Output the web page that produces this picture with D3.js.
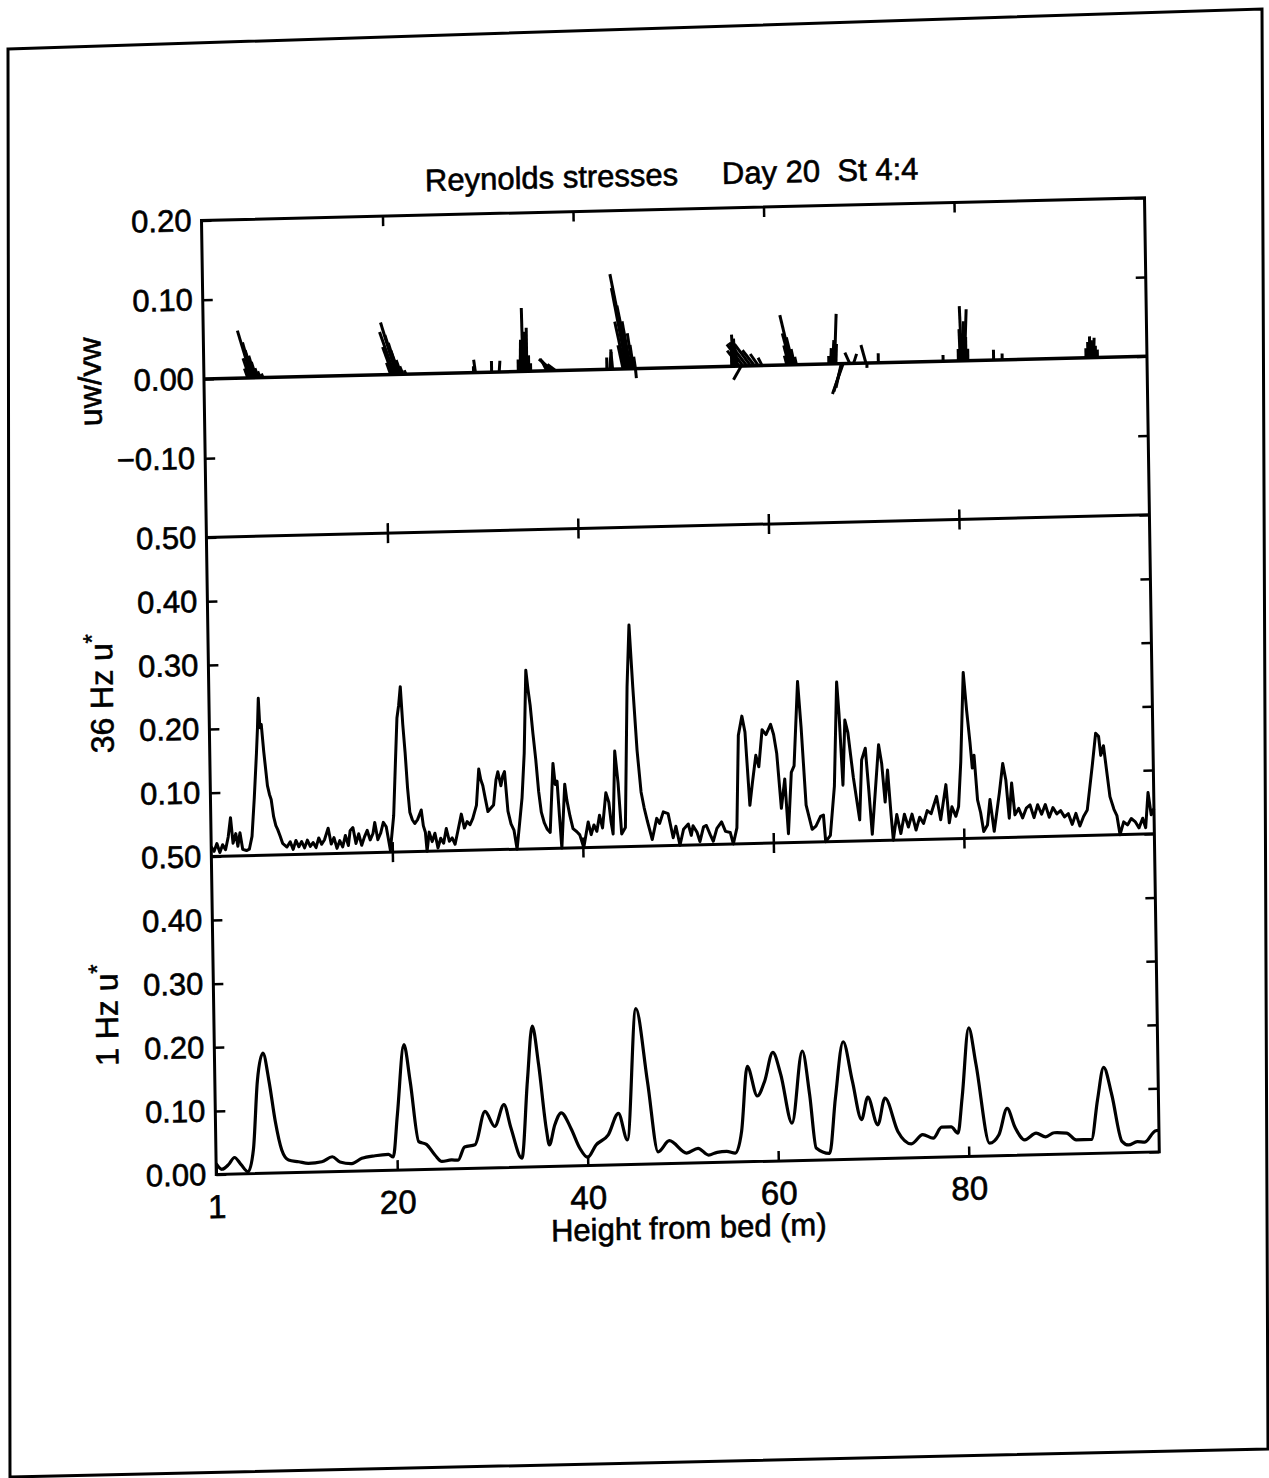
<!DOCTYPE html>
<html>
<head>
<meta charset="utf-8">
<script src="https://cdn.jsdelivr.net/npm/d3@7"></script>
<style>
  body { margin: 0; background: #fff; }
  svg { display: block; background: #fff; }
  text { font-family: "Liberation Sans", Arial, Helvetica, sans-serif; fill: #000; stroke: #000; stroke-width: 0.6px; }
  .tick line { stroke: #000; stroke-width: 2.5; }
  .tick text { font-size: 31px; }
  .x-axis .tick text { font-size: 33px; }
</style>
</head>
<body>
<svg id="chart" width="1269" height="1478"></svg>
<script>
// tick values / labels
const xTicks = [20, 40, 60, 80];
const xLabels = [1, 20, 40, 60, 80];
const stressTicks = [0.2, 0.1, 0, -0.1];
const ustar36Ticks = [0.5, 0.4, 0.3, 0.2, 0.1];
const ustar1Ticks = [0.5, 0.4, 0.3, 0.2, 0.1, 0.0];

// Reynolds stress sticks: [height, horizontal comp, vertical comp]
const stressSticks = [
  [5.6, -0.004, 0.012], [5.8, -0.008, 0.025], [6.0, -0.017, 0.06], [6.1, -0.012, 0.045],
  [6.2, -0.01, 0.035], [6.4, -0.008, 0.028], [6.5, -0.006, 0.02], [6.7, -0.004, 0.012],
  [6.9, -0.003, 0.008], [7.2, -0.002, 0.005],
  [20.6, -0.005, 0.015], [20.8, -0.012, 0.035], [21.0, -0.018, 0.054], [21.2, -0.019, 0.066],
  [21.3, -0.015, 0.05], [21.4, -0.012, 0.04], [21.5, -0.01, 0.03], [21.7, -0.006, 0.018],
  [21.9, -0.004, 0.01], [22.2, -0.002, 0.005],
  [29.3, 0, 0.008], [29.5, -0.002, 0.016], [31.2, 0, 0.014], [32.0, 0.001, 0.014],
  [34.0, 0, 0.015], [34.2, 0.001, 0.04], [34.4, 0, 0.03], [34.5, -0.001, 0.08],
  [34.7, 0, 0.05], [34.9, 0, 0.055], [35.1, 0, 0.02], [35.3, 0, 0.01],
  [37.0, -0.006, 0.012], [37.3, -0.012, 0.015], [37.6, -0.017, 0.015], [37.9, -0.01, 0.008],
  [43.3, 0, 0.015], [43.6, 0.002, 0.022], [43.9, -0.002, 0.025],
  [45.0, -0.006, 0.03], [45.2, -0.012, 0.06], [45.4, -0.018, 0.1025], [45.6, -0.022, 0.12],
  [45.7, -0.015, 0.08], [45.8, -0.01, 0.06], [46.0, -0.006, 0.045], [46.1, -0.004, 0.03],
  [46.3, -0.002, 0.015], [46.3, 0.001, -0.012],
  [56.4, 0, 0.03], [56.6, -0.002, 0.04], [56.8, -0.002, 0.035], [57.0, -0.003, 0.025],
  [57.4, -0.01, -0.017],
  [57.2, -0.015, 0.02], [57.6, -0.02, 0.028], [58.0, -0.022, 0.03], [58.4, -0.02, 0.028],
  [58.8, -0.015, 0.02], [59.2, -0.01, 0.015], [59.6, -0.005, 0.01],
  [62.2, -0.003, 0.012], [62.4, -0.006, 0.025], [62.6, -0.01, 0.04], [62.7, -0.014, 0.063],
  [62.85, -0.008, 0.035], [63.0, -0.004, 0.02], [63.2, -0.002, 0.01],
  [66.6, 0, 0.01], [66.8, 0.001, 0.02], [67.0, 0.002, 0.03], [67.2, 0.003, 0.063],
  [67.35, 0.001, 0.025], [67.9, -0.007, -0.03], [68.0, -0.011, -0.035], [68.1, -0.014, -0.038],
  [68.8, -0.006, 0.014], [69.2, 0.004, 0.012], [70.5, -0.006, 0.023], [70.6, 0, -0.006],
  [71.8, 0, 0.012], [78.6, 0, 0.008],
  [80.2, 0, 0.015], [80.4, -0.001, 0.04], [80.55, -0.002, 0.069], [80.7, 0.001, 0.05],
  [80.85, 0.003, 0.065], [81.0, 0, 0.03], [81.2, 0, 0.015],
  [83.9, 0, 0.013], [84.8, 0, 0.008],
  [93.6, 0, 0.012], [93.8, 0, 0.02], [94.0, 0, 0.027], [94.2, 0, 0.022],
  [94.4, 0.001, 0.025], [94.6, 0, 0.015], [94.8, 0, 0.01]
];

// 36 Hz u*: [height, value]
const ustar36 = [
  [1.0, 0.015], [1.3, 0.008], [1.6, 0.02], [1.9, 0.006], [2.2, 0.018], [2.5, 0.01], [2.8, 0.03],
  [3.07, 0.06], [3.3, 0.02], [3.6, 0.035], [3.8, 0.015], [4.04, 0.036], [4.3, 0.01], [4.7, 0.008],
  [5.0, 0.01], [5.3, 0.03], [5.6, 0.09], [5.9, 0.16], [6.05, 0.2], [6.18, 0.246], [6.3, 0.2],
  [6.45, 0.205], [6.67, 0.162], [7.0, 0.109], [7.2, 0.095], [7.37, 0.087], [7.6, 0.06],
  [7.82, 0.046], [8.0, 0.04], [8.24, 0.03], [8.5, 0.018], [8.95, 0.012],
  [9.3, 0.02], [9.6, 0.008], [9.9, 0.022], [10.2, 0.012], [10.5, 0.02], [10.8, 0.01],
  [11.1, 0.022], [11.4, 0.012], [11.7, 0.018], [12.0, 0.01], [12.3, 0.025], [12.6, 0.015],
  [12.9, 0.022], [13.3, 0.04], [13.6, 0.015], [13.9, 0.025], [14.2, 0.008], [14.5, 0.02],
  [14.8, 0.01], [15.1, 0.028], [15.4, 0.012], [15.6, 0.035], [15.9, 0.04], [16.2, 0.015],
  [16.5, 0.03], [16.8, 0.012], [17.1, 0.025], [17.4, 0.035], [17.7, 0.02], [18.0, 0.03],
  [18.2, 0.047], [18.5, 0.02], [18.8, 0.03], [19.1, 0.047], [19.4, 0.04], [19.8, 0.003],
  [20.2, 0.057], [20.5, 0.15], [20.7, 0.21], [20.9, 0.23], [21.1, 0.259], [21.3, 0.2],
  [21.5, 0.156], [21.7, 0.1], [21.9, 0.062], [22.15, 0.05], [22.4, 0.044], [22.7, 0.05],
  [23.1, 0.065], [23.3, 0.04], [23.5, 0.03], [23.65, 0.0], [23.9, 0.03], [24.2, 0.015],
  [24.5, 0.028], [24.8, 0.005], [25.1, 0.02], [25.4, 0.012], [25.7, 0.035], [26.0, 0.015],
  [26.3, 0.02], [26.6, 0.01], [26.9, 0.03], [27.3, 0.057], [27.6, 0.035], [27.9, 0.045],
  [28.2, 0.04], [28.5, 0.05], [28.9, 0.07], [29.2, 0.127], [29.4, 0.11], [29.6, 0.101],
  [29.85, 0.08], [30.1, 0.06], [30.4, 0.065], [30.7, 0.07], [31.0, 0.11], [31.2, 0.122],
  [31.5, 0.1], [31.7, 0.115], [31.9, 0.122], [32.2, 0.06], [32.5, 0.04], [32.8, 0.03],
  [33.1, 0.0], [33.4, 0.04], [33.7, 0.08], [34.0, 0.15], [34.3, 0.28], [34.5, 0.25],
  [34.7, 0.225], [34.95, 0.18], [35.2, 0.14], [35.45, 0.09], [35.7, 0.057], [36.0, 0.04],
  [36.3, 0.03], [36.6, 0.025], [37.0, 0.133], [37.2, 0.1], [37.4, 0.105], [37.6, 0.05],
  [37.8, 0.0], [38.2, 0.1], [38.4, 0.075], [38.7, 0.05], [39.0, 0.03], [39.4, 0.025],
  [39.7, 0.02], [40.1, 0.0], [40.6, 0.04], [40.9, 0.02], [41.2, 0.035], [41.5, 0.025],
  [41.8, 0.05], [42.1, 0.03], [42.5, 0.085], [42.8, 0.07], [43.0, 0.04], [43.2, 0.02],
  [43.5, 0.15], [43.8, 0.1], [44.1, 0.02], [44.5, 0.03], [44.9, 0.25], [45.2, 0.347],
  [45.5, 0.25], [45.85, 0.15], [46.2, 0.085], [46.5, 0.06], [46.8, 0.04], [47.3, 0.01],
  [47.8, 0.043], [48.1, 0.035], [48.5, 0.053], [49.0, 0.05], [49.5, 0.012], [49.8, 0.03],
  [50.2, 0.0], [50.6, 0.025], [51.1, 0.033], [51.4, 0.015], [51.6, 0.03], [52.0, 0.02],
  [52.3, 0.005], [52.7, 0.028], [53.0, 0.03], [53.4, 0.015], [53.7, 0.005], [54.1, 0.025],
  [54.6, 0.035], [55.0, 0.02], [55.5, 0.018], [55.8, 0.0], [56.2, 0.025], [56.5, 0.17],
  [56.9, 0.2], [57.2, 0.175], [57.6, 0.06], [57.9, 0.095], [58.3, 0.138], [58.6, 0.12],
  [59.0, 0.178], [59.4, 0.17], [59.9, 0.186], [60.2, 0.17], [60.5, 0.14], [60.9, 0.054],
  [61.3, 0.1], [61.6, 0.014], [62.0, 0.11], [62.3, 0.12], [62.8, 0.252], [63.1, 0.18],
  [63.5, 0.058], [64.1, 0.02], [64.5, 0.025], [65.0, 0.04], [65.3, 0.042], [65.5, 0.0],
  [66.0, 0.01], [66.5, 0.087], [66.9, 0.25], [67.1, 0.2], [67.4, 0.088], [67.7, 0.19],
  [68.0, 0.17], [68.5, 0.1], [69.1, 0.033], [69.4, 0.127], [69.8, 0.145], [70.1, 0.08],
  [70.4, 0.01], [70.8, 0.08], [71.2, 0.15], [71.5, 0.12], [71.8, 0.06], [72.1, 0.11],
  [72.4, 0.04], [72.6, 0.0], [73.0, 0.04], [73.4, 0.01], [73.8, 0.04], [74.2, 0.02],
  [74.6, 0.04], [75.0, 0.015], [75.4, 0.035], [75.8, 0.025], [76.2, 0.045], [76.6, 0.04],
  [77.2, 0.067], [77.6, 0.03], [78.2, 0.085], [78.5, 0.025], [78.8, 0.05], [79.2, 0.035],
  [79.5, 0.05], [79.8, 0.12], [80.2, 0.26], [80.5, 0.2], [80.8, 0.15], [81.0, 0.11],
  [81.2, 0.13], [81.5, 0.06], [81.8, 0.04], [82.1, 0.01], [82.5, 0.02], [82.8, 0.06],
  [83.2, 0.01], [83.8, 0.07], [84.2, 0.116], [84.5, 0.09], [84.8, 0.03], [85.1, 0.085],
  [85.4, 0.035], [85.8, 0.045], [86.2, 0.03], [86.6, 0.045], [87.0, 0.05], [87.4, 0.03],
  [87.8, 0.05], [88.2, 0.035], [88.6, 0.05], [89.0, 0.03], [89.4, 0.045], [89.8, 0.035],
  [90.2, 0.04], [90.6, 0.03], [91.0, 0.035], [91.4, 0.018], [91.8, 0.035], [92.2, 0.015],
  [92.6, 0.03], [93.0, 0.04], [93.6, 0.11], [94.0, 0.16], [94.3, 0.155], [94.5, 0.125],
  [94.8, 0.14], [95.1, 0.1], [95.4, 0.06], [95.8, 0.04], [96.1, 0.03], [96.4, 0.0],
  [96.8, 0.02], [97.2, 0.015], [97.6, 0.025], [98.0, 0.02], [98.4, 0.01], [98.8, 0.025],
  [99.1, 0.01], [99.4, 0.065], [99.7, 0.03], [100, 0.04]
];

// 1 Hz u*: [height, value]
const ustar1 = [
  [1.0, 0.017], [1.6, 0.008], [2.3, 0.015], [2.94, 0.026], [3.6, 0.015], [4.34, 0.003],
  [4.94, 0.038], [5.46, 0.145], [6.09, 0.189], [6.69, 0.144], [7.28, 0.081], [7.91, 0.036],
  [8.61, 0.02], [9.66, 0.017], [10.7, 0.014], [12.1, 0.016], [13.2, 0.0235], [14.0, 0.015],
  [15.25, 0.012], [16.3, 0.02], [17.7, 0.0235], [19.1, 0.025], [19.6, 0.021], [20.1, 0.087],
  [20.9, 0.197], [21.5, 0.139], [22.3, 0.044], [23.1, 0.0395], [24.0, 0.022], [24.7, 0.012],
  [25.7, 0.014], [26.4, 0.0135], [27.1, 0.034], [28.2, 0.037], [29.3, 0.089], [30.3, 0.065],
  [31.3, 0.099], [32.0, 0.062], [33.1, 0.014], [33.8, 0.135], [34.4, 0.2215], [35.0, 0.161],
  [35.7, 0.06], [36.0, 0.034], [36.6, 0.065], [37.3, 0.084], [38.3, 0.059], [39.2, 0.0275],
  [40.0, 0.013], [40.9, 0.032], [42.2, 0.0475], [43.3, 0.081], [44.2, 0.039], [45.3, 0.245],
  [46.4, 0.13], [47.4, 0.019], [48.6, 0.036], [50.4, 0.016], [51.6, 0.023], [52.7, 0.012],
  [53.6, 0.016], [54.6, 0.017], [55.5, 0.014], [56.2, 0.048], [56.9, 0.15], [57.9, 0.103],
  [58.7, 0.126], [59.6, 0.171], [60.4, 0.136], [61.5, 0.059], [62.7, 0.172], [63.4, 0.103],
  [64.0, 0.019], [65.4, 0.01], [66.1, 0.097], [67.0, 0.185], [67.9, 0.123], [68.8, 0.062],
  [69.5, 0.097], [70.5, 0.053], [71.3, 0.095], [72.6, 0.042], [74.0, 0.022], [75.2, 0.036],
  [76.3, 0.03], [77.2, 0.047], [78.2, 0.047], [78.9, 0.037], [79.4, 0.093], [80.2, 0.202],
  [80.9, 0.145], [82.2, 0.02], [83.2, 0.033], [84.1, 0.074], [84.9, 0.044], [85.9, 0.024],
  [87.1, 0.034], [88.1, 0.028], [89.0, 0.034], [90.3, 0.033], [91.3, 0.022], [92.9, 0.022],
  [93.6, 0.084], [94.3, 0.135], [95.1, 0.092], [96.1, 0.018], [96.8, 0.012], [97.7, 0.017],
  [98.5, 0.016], [99.6, 0.033], [100, 0.034]
];

const svg = d3.select("#chart");
const width = 943;
const height = 954;

// scanned page border
svg
  .append("path")
  .attr("d", "M8,49 L1262,9 L1268,1449 L10,1477 Z")
  .attr("fill", "none")
  .attr("stroke", "#000")
  .attr("stroke-width", 3);

// the scan is slightly tilted, so the whole plot sits in a skewed frame
const g = svg
  .append("g")
  .attr("transform", "matrix(1,-0.024,0.0155,1,201.5,220.5)");

const xScale = d3.scaleLinear().domain([1, 100]).range([0, width]);

const panels = [
  { top: 0, bottom: 317, domain: [-0.2, 0.2], labels: stressTicks, title: "uw/vw", titleX: -103, shift: 0 },
  { top: 317, bottom: 636, domain: [0, 0.5], labels: ustar36Ticks, title: "36 Hz u", titleX: -96, shift: -6 },
  { top: 636, bottom: 954, domain: [0, 0.5], labels: ustar1Ticks, title: "1 Hz u", titleX: -96, shift: -3 },
];
panels.forEach((p) => {
  p.y = d3.scaleLinear().domain(p.domain).range([p.bottom, p.top]);
});

panels.forEach((p, i) => {
  const yAxis = d3
    .axisLeft(p.y)
    .tickValues(p.labels)
    .tickSize(-10)
    .tickPadding(10)
    .tickFormat(d3.format(".2f"));
  g.append("g").attr("class", "y-axis").call(yAxis).select(".domain").remove();

  g.append("g")
    .attr("transform", `translate(${width},0)`)
    .call(d3.axisRight(p.y).tickValues(p.labels).tickSize(-10).tickFormat(""))
    .select(".domain")
    .remove();

  const t = g
    .append("text")
    .attr("transform", `translate(${p.titleX},${(p.top + p.bottom) / 2 + p.shift}) rotate(-90)`)
    .attr("text-anchor", "middle")
    .style("font-size", "32px")
    .text(p.title);
  if (i > 0) {
    t.append("tspan").attr("dy", -12).style("font-size", "24px").text("*");
  }
});

//x ticks: top edge, panel boundaries, bottom edge
g.append("g")
  .call(d3.axisTop(xScale).tickValues(xTicks).tickSize(-10).tickFormat(""))
  .select(".domain")
  .remove();

[317, 636].forEach((yb) => {
  g.append("g")
    .attr("transform", `translate(0,${yb - 10})`)
    .call(d3.axisBottom(xScale).tickValues(xTicks).tickSize(20).tickFormat(""))
    .select(".domain")
    .remove();
});

g.append("g")
  .attr("class", "x-axis")
  .attr("transform", `translate(0,${height})`)
  .call(d3.axisBottom(xScale).tickValues(xLabels).tickSize(-10).tickPadding(20))
  .select(".domain")
  .remove();

// frame
g.append("rect")
  .attr("width", width)
  .attr("height", height)
  .attr("fill", "none")
  .attr("stroke", "#000")
  .attr("stroke-width", 3);

[317, 636].forEach((yb) => {
  g.append("line")
    .attr("x1", 0)
    .attr("x2", width)
    .attr("y1", yb)
    .attr("y2", yb)
    .attr("stroke", "#000")
    .attr("stroke-width", 3);
});

// stick plot of stresses
const yS = panels[0].y;
g.append("line")
  .attr("x1", xScale(1))
  .attr("x2", xScale(100))
  .attr("y1", yS(0))
  .attr("y2", yS(0))
  .attr("stroke", "#000")
  .attr("stroke-width", 3.5);

g.selectAll(".stick")
  .data(stressSticks)
  .enter()
  .append("line")
  .attr("class", "stick")
  .attr("x1", (d) => xScale(d[0]))
  .attr("y1", yS(0))
  // horizontal component drawn at the same scale as the vertical one
  .attr("x2", (d) => xScale(d[0]) + (yS(0) - yS(d[1])))
  .attr("y2", (d) => yS(d[2]))
  .attr("stroke", "#000")
  .attr("stroke-width", 3);

const y36 = panels[1].y;
g.append("path")
  .datum(ustar36)
  .attr("fill", "none")
  .attr("stroke", "#000")
  .attr("stroke-width", 3)
  .attr("stroke-linejoin", "round")
  .attr("d", d3.line().x((d) => xScale(d[0])).y((d) => y36(d[1])));

const y1 = panels[2].y;
g.append("path")
  .datum(ustar1)
  .attr("fill", "none")
  .attr("stroke", "#000")
  .attr("stroke-width", 3.2)
  .attr("d", d3.line().x((d) => xScale(d[0])).y((d) => y1(d[1])).curve(d3.curveMonotoneX));

// titles
g.append("text")
  .attr("x", 224)
  .attr("y", -24)
  .style("font-size", "31px")
  .text("Reynolds stresses");

g.append("text")
  .attr("x", 521)
  .attr("y", -24)
  .style("font-size", "31px")
  .text("Day 20  St 4:4")
  .attr("xml:space", "preserve");

g.append("text")
  .attr("x", width / 2)
  .attr("y", height + 75)
  .attr("text-anchor", "middle")
  .style("font-size", "31px")
  .text("Height from bed (m)");
</script>
</body>
</html>
